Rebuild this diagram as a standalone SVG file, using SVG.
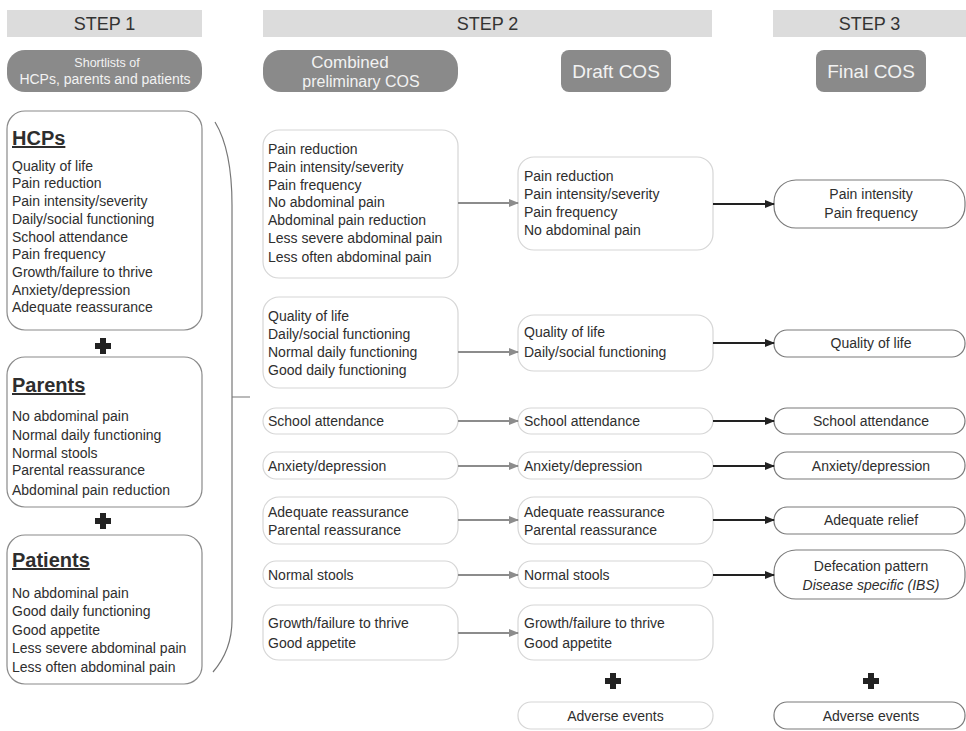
<svg xmlns="http://www.w3.org/2000/svg" width="966" height="731" viewBox="0 0 966 731">
<defs>
<marker id="ag" markerWidth="10" markerHeight="8" refX="9" refY="4" orient="auto" markerUnits="userSpaceOnUse"><path d="M0,0 L10,4 L0,8 z" fill="#8c8c8c"/></marker>
<marker id="ab" markerWidth="10" markerHeight="8" refX="9" refY="4" orient="auto" markerUnits="userSpaceOnUse"><path d="M0,0 L10,4 L0,8 z" fill="#222"/></marker>
</defs>
<style>
text{font-family:"Liberation Sans",Arial,sans-serif;fill:#2e2e2e;font-size:14px}
.hdr{fill:#dcdcdc}
.ht{font-size:18px;text-anchor:middle;fill:#333}
.pill{fill:#8a8a8a}
.pt{fill:#f2f2f2;text-anchor:middle}
.lb{fill:#fff;stroke:#8a8a8a;stroke-width:1.2}
.mb{fill:#fff;stroke:#d6d6d6;stroke-width:1.2}
.fb{fill:#fff;stroke:#7a7a7a;stroke-width:1.2}
.tt{font-size:20px;font-weight:bold;text-decoration:underline}
.c{text-anchor:middle}
.plus{fill:#222}
.ga{stroke:#8c8c8c;stroke-width:2;fill:none;marker-end:url(#ag)}
.ba{stroke:#222;stroke-width:1.8;fill:none;marker-end:url(#ab)}
</style>
<g id="headers">
<rect class="hdr" x="7" y="10" width="195" height="27"/><text class="ht" x="104.5" y="30">STEP 1</text>
<rect class="hdr" x="263" y="10" width="449" height="27"/><text class="ht" x="487.5" y="30">STEP 2</text>
<rect class="hdr" x="773" y="10" width="193" height="27"/><text class="ht" x="869.5" y="30">STEP 3</text>
</g>
<g id="pill-shortlists"><rect class="pill" x="7" y="50" width="195" height="42" rx="18"/><text class="pt" x="107" y="67" style="font-size:12.5px">Shortlists of</text><text class="pt" x="105" y="84" style="font-size:14px">HCPs, parents and patients</text></g>
<g id="pill-combined"><rect class="pill" x="263" y="50" width="195" height="42" rx="18"/><text class="pt" x="350" y="68" style="font-size:17px">Combined</text><text class="pt" x="361" y="87" style="font-size:16px">preliminary COS</text></g>
<g id="pill-draft"><rect class="pill" x="561" y="50" width="110" height="42" rx="8"/><text class="pt" x="616" y="78" style="font-size:19px">Draft COS</text></g>
<g id="pill-final"><rect class="pill" x="816" y="50" width="110" height="42" rx="8"/><text class="pt" x="871" y="78" style="font-size:19px">Final COS</text></g>

<g id="hcps"><rect class="lb" x="7" y="111" width="195" height="219" rx="18"/>
<text class="tt" x="12" y="145">HCPs</text>
<text x="12" y="171">Quality of life</text><text x="12" y="188">Pain reduction</text><text x="12" y="206">Pain intensity/severity</text><text x="12" y="224">Daily/social functioning</text><text x="12" y="242">School attendance</text><text x="12" y="259">Pain frequency</text><text x="12" y="277">Growth/failure to thrive</text><text x="12" y="295">Anxiety/depression</text><text x="12" y="312">Adequate reassurance</text></g>
<g id="plus1"><path class="plus" d="M100,338 h6 v5 h5 v6 h-5 v5 h-6 v-5 h-5 v-6 h5 z"/></g>
<g id="parents"><rect class="lb" x="7" y="357" width="195" height="150" rx="18"/>
<text class="tt" x="12" y="392">Parents</text>
<text x="12" y="421">No abdominal pain</text><text x="12" y="440">Normal daily functioning</text><text x="12" y="458">Normal stools</text><text x="12" y="475">Parental reassurance</text><text x="12" y="495">Abdominal pain reduction</text></g>
<g id="plus2"><path class="plus" d="M100,513 h6 v5 h5 v6 h-5 v5 h-6 v-5 h-5 v-6 h5 z"/></g>
<g id="patients"><rect class="lb" x="7" y="535" width="195" height="149" rx="18"/>
<text class="tt" x="12" y="567">Patients</text>
<text x="12" y="598">No abdominal pain</text><text x="12" y="616">Good daily functioning</text><text x="12" y="635">Good appetite</text><text x="12" y="653">Less severe abdominal pain</text><text x="12" y="672">Less often abdominal pain</text></g>
<g id="brace"><path d="M215,122 Q232,150 232,205 L232,620 Q232,650 213,672 M232,397 L250,397" fill="none" stroke="#777" stroke-width="1.2"/></g>

<g id="c1"><rect class="mb" x="263" y="130" width="195" height="148" rx="16"/>
<text x="268" y="154">Pain reduction</text><text x="268" y="172">Pain intensity/severity</text><text x="268" y="190">Pain frequency</text><text x="268" y="207">No abdominal pain</text><text x="268" y="225">Abdominal pain reduction</text><text x="268" y="243">Less severe abdominal pain</text><text x="268" y="262">Less often abdominal pain</text></g>
<g id="c2"><rect class="mb" x="263" y="297" width="195" height="91" rx="16"/>
<text x="268" y="321">Quality of life</text><text x="268" y="339">Daily/social functioning</text><text x="268" y="357">Normal daily functioning</text><text x="268" y="375">Good daily functioning</text></g>
<g id="c3"><rect class="mb" x="263" y="408" width="195" height="26" rx="13"/><text x="268" y="426">School attendance</text></g>
<g id="c4"><rect class="mb" x="263" y="452" width="195" height="27" rx="13"/><text x="268" y="471">Anxiety/depression</text></g>
<g id="c5"><rect class="mb" x="263" y="497" width="195" height="47" rx="16"/><text x="268" y="517">Adequate reassurance</text><text x="268" y="535">Parental reassurance</text></g>
<g id="c6"><rect class="mb" x="263" y="561" width="195" height="27" rx="13"/><text x="268" y="580">Normal stools</text></g>
<g id="c7"><rect class="mb" x="263" y="605" width="195" height="55" rx="16"/><text x="268" y="628">Growth/failure to thrive</text><text x="268" y="648">Good appetite</text></g>

<g id="d1"><rect class="mb" x="518" y="157" width="195" height="93" rx="16"/>
<text x="524" y="181">Pain reduction</text><text x="524" y="199">Pain intensity/severity</text><text x="524" y="217">Pain frequency</text><text x="524" y="235">No abdominal pain</text></g>
<g id="d2"><rect class="mb" x="518" y="315" width="195" height="56" rx="16"/><text x="524" y="337">Quality of life</text><text x="524" y="357">Daily/social functioning</text></g>
<g id="d3"><rect class="mb" x="518" y="408" width="195" height="26" rx="13"/><text x="524" y="426">School attendance</text></g>
<g id="d4"><rect class="mb" x="518" y="452" width="195" height="27" rx="13"/><text x="524" y="471">Anxiety/depression</text></g>
<g id="d5"><rect class="mb" x="518" y="497" width="195" height="47" rx="16"/><text x="524" y="517">Adequate reassurance</text><text x="524" y="535">Parental reassurance</text></g>
<g id="d6"><rect class="mb" x="518" y="561" width="195" height="27" rx="13"/><text x="524" y="580">Normal stools</text></g>
<g id="d7"><rect class="mb" x="518" y="605" width="195" height="55" rx="16"/><text x="524" y="628">Growth/failure to thrive</text><text x="524" y="648">Good appetite</text></g>
<g id="plus3"><path class="plus" d="M610,673 h6 v5 h5 v6 h-5 v5 h-6 v-5 h-5 v-6 h5 z"/></g>
<g id="d8"><rect class="mb" x="518" y="702" width="195" height="27" rx="13"/><text class="c" x="615.5" y="721">Adverse events</text></g>

<g id="f1"><rect class="fb" x="774" y="180" width="191" height="48" rx="22"/><text class="c" x="871" y="199">Pain intensity</text><text class="c" x="871" y="218">Pain frequency</text></g>
<g id="f2"><rect class="fb" x="774" y="330" width="191" height="27" rx="13"/><text class="c" x="871" y="348">Quality of life</text></g>
<g id="f3"><rect class="fb" x="774" y="408" width="191" height="26" rx="13"/><text class="c" x="871" y="426">School attendance</text></g>
<g id="f4"><rect class="fb" x="774" y="452" width="191" height="27" rx="13"/><text class="c" x="871" y="471">Anxiety/depression</text></g>
<g id="f5"><rect class="fb" x="774" y="507" width="191" height="27" rx="13"/><text class="c" x="871" y="525">Adequate relief</text></g>
<g id="f6"><rect class="fb" x="774" y="550" width="191" height="49" rx="22"/><text class="c" x="871" y="571">Defecation pattern</text><text class="c" x="871" y="590" font-style="italic">Disease specific (IBS)</text></g>
<g id="plus4"><path class="plus" d="M868,673 h6 v5 h5 v6 h-5 v5 h-6 v-5 h-5 v-6 h5 z"/></g>
<g id="f7"><rect class="fb" x="774" y="702" width="191" height="27" rx="13"/><text class="c" x="871" y="721">Adverse events</text></g>

<g id="connectors">
<line class="ga" x1="458" y1="203" x2="518" y2="203"/>
<line class="ga" x1="458" y1="352" x2="518" y2="352"/>
<line class="ga" x1="458" y1="421" x2="518" y2="421"/>
<line class="ga" x1="458" y1="466" x2="518" y2="466"/>
<line class="ga" x1="458" y1="520" x2="518" y2="520"/>
<line class="ga" x1="458" y1="575" x2="518" y2="575"/>
<line class="ga" x1="458" y1="633" x2="518" y2="633"/>
<line class="ba" x1="713" y1="204" x2="774" y2="204"/>
<line class="ba" x1="713" y1="343" x2="774" y2="343"/>
<line class="ba" x1="713" y1="421" x2="774" y2="421"/>
<line class="ba" x1="713" y1="466" x2="774" y2="466"/>
<line class="ba" x1="713" y1="520" x2="774" y2="520"/>
<line class="ba" x1="713" y1="575" x2="774" y2="575"/>
</g>
</svg>
